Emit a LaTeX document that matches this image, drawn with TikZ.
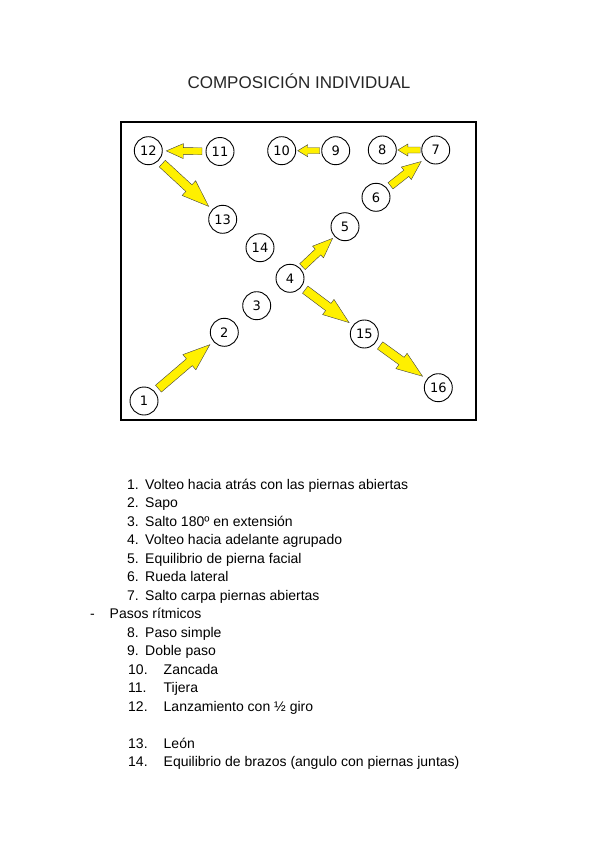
\documentclass[tikz,border=0pt]{standalone}
\usepackage{fontspec}
\setmainfont{Liberation Sans}
\newfontfamily\dejavu{DejaVu Sans}
\usepackage{tikz}
\usetikzlibrary{positioning,calc}

\definecolor{amarillo}{RGB}{255,240,0}

% flecha gruesa amarilla: desde, hasta, hueco, largo punta, media punta, medio cuerpo
\newcommand{\flecha}[6]{%
  \path ($(#1)!#3!(#2)$) coordinate (fa)
        ($(#2)!#3!(#1)$) coordinate (fb);
  \path ($(fb)!#4!(fa)$) coordinate (fm);
  \draw[flechagruesa]
      ($(fa)!#6!90:(fb)$) -- ($(fm)!#6!90:(fb)$)
      -- ($(fm)!#5!90:(fb)$) -- (fb)
      -- ($(fm)!#5!-90:(fb)$) -- ($(fm)!#6!-90:(fb)$)
      -- ($(fa)!#6!-90:(fb)$) -- cycle;
}

\begin{document}
\begin{tikzpicture}[
    x=1pt, y=-1pt,
    paso/.style={circle, draw, line width=0.9pt, minimum size=28pt,
        inner sep=0pt, font=\dejavu\fontsize{13}{13}\selectfont},
    flechagruesa/.style={fill=amarillo, draw=black!75, line width=0.4pt,
        line join=miter},
    item/.style={anchor=base west, inner sep=0pt,
        font=\fontsize{14}{16}\selectfont}
]
\useasboundingbox (0,0) rectangle (600,848);

% Titulo
\node[anchor=base, inner sep=0pt, text=black!85,
      font=\fontsize{17}{20}\selectfont] (titulo) at (299,89)
    {COMPOSICIÓN INDIVIDUAL};

% Cuadro del recorrido
\draw[line width=1.6pt] (121,122) rectangle (476,420);

% Elementos
\node[paso] (p1)  at (144,401)   {1};
\node[paso] (p2)  at (224.3,332.3) {2};
\node[paso] (p3)  at (256.7,305.7) {3};
\node[paso] (p4)  at (290,278.3) {4};
\node[paso] (p5)  at (345,226.7) {5};
\node[paso] (p6)  at (376,197.3) {6};
\node[paso] (p7)  at (435.7,150) {7};
\node[paso] (p8)  at (382.3,150) {8};
\node[paso] (p9)  at (335.7,150.7) {9};
\node[paso] (p10) at (281.7,150.7) {10};
\node[paso] (p11) at (220,151.5) {11};
\node[paso] (p12) at (148.3,150.7) {12};
\node[paso] (p13) at (222.7,219.3) {13};
\node[paso] (p14) at (260,247.7) {14};
\node[paso] (p15) at (364.3,334) {15};
\node[paso] (p16) at (438.3,387.7) {16};

% Flechas del recorrido
\flecha{p1}{p2}{19pt}{27pt}{10pt}{4.5pt}
\flecha{p4}{p5}{17pt}{20pt}{8pt}{4pt}
\flecha{p6}{p7}{18.5pt}{19pt}{8pt}{4pt}
\flecha{p7}{p8}{15.5pt}{10pt}{6pt}{3pt}
\flecha{p9}{p10}{16pt}{10pt}{6pt}{3pt}
\flecha{p11}{p12}{18pt}{17pt}{7.5pt}{3.5pt}
\flecha{p12}{p13}{19pt}{27pt}{10pt}{4.5pt}
\flecha{p4}{p15}{19pt}{26pt}{9.5pt}{4.5pt}
\flecha{p15}{p16}{19.5pt}{26pt}{9.5pt}{4.5pt}

% Lista de elementos
\node[item] (n1) at (127,489)   {1.};
\node[item] (t1) at (145,489)   {Volteo hacia atrás con las piernas abiertas};
\node[item] (n2) at (127,507.5) {2.};
\node[item] (t2) at (145,507.5) {Sapo};
\node[item] (n3) at (127,526)   {3.};
\node[item] (t3) at (145,526)   {Salto 180º en extensión};
\node[item] (n4) at (127,544.5) {4.};
\node[item] (t4) at (145,544.5) {Volteo hacia adelante agrupado};
\node[item] (n5) at (127,563)   {5.};
\node[item] (t5) at (145,563)   {Equilibrio de pierna facial};
\node[item] (n6) at (127,581.5) {6.};
\node[item] (t6) at (145,581.5) {Rueda lateral};
\node[item] (n7) at (127,600)   {7.};
\node[item] (t7) at (145,600)   {Salto carpa piernas abiertas};

\node[item] (guion) at (90,618.5)  {-};
\node[item] (pasos) at (109.5,618.5) {Pasos rítmicos};

\node[item] (n8)  at (127,637)   {8.};
\node[item] (t8)  at (145,637)   {Paso simple};
\node[item] (n9)  at (127,655.5) {9.};
\node[item] (t9)  at (145,655.5) {Doble paso};
\node[item] (n10) at (128,674)   {10.};
\node[item] (t10) at (163.5,674) {Zancada};
\node[item] (n11) at (128,692.5) {11.};
\node[item] (t11) at (163.5,692.5) {Tijera};
\node[item] (n12) at (128,711)   {12.};
\node[item] (t12) at (163.5,711) {Lanzamiento con ½ giro};

\node[item] (n13) at (128,748)   {13.};
\node[item] (t13) at (163.5,748) {León};
\node[item] (n14) at (128,766.5) {14.};
\node[item] (t14) at (163.5,766.5) {Equilibrio de brazos (angulo con piernas juntas)};

\end{tikzpicture}
\end{document}
